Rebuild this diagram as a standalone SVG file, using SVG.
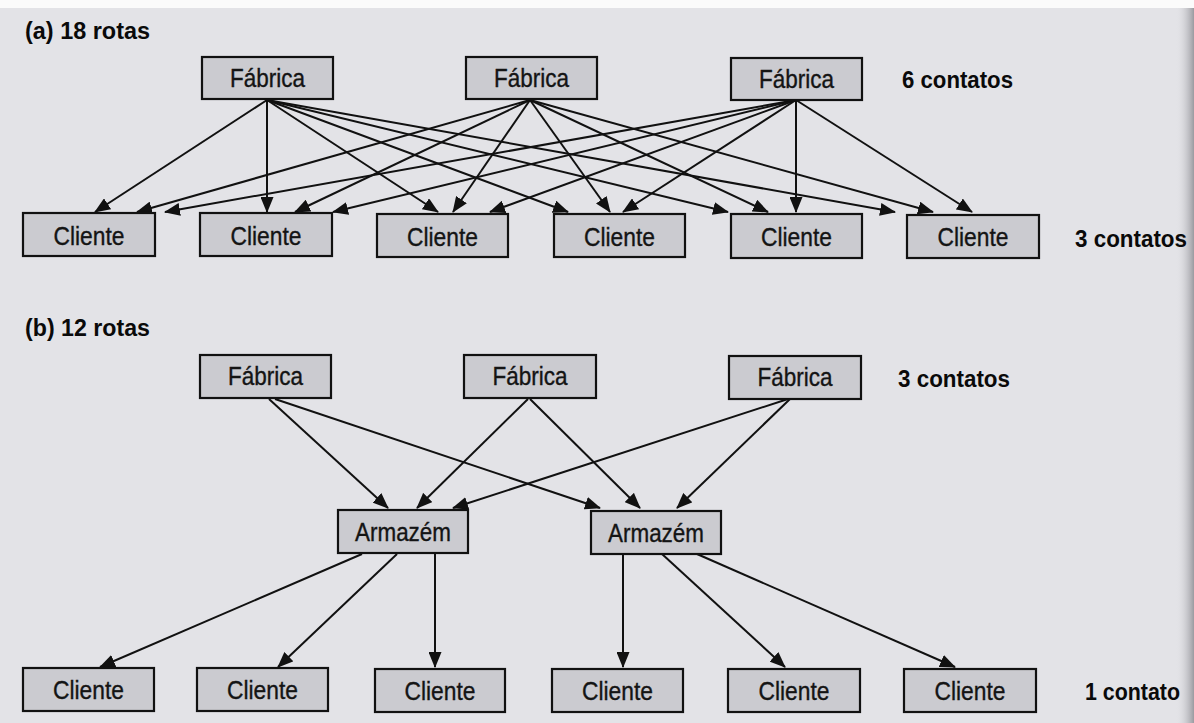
<svg xmlns="http://www.w3.org/2000/svg" width="1194" height="723" viewBox="0 0 1194 723">
  <style>
    .box { fill: #cbcbd0; stroke: #111; stroke-width: 2.2; }
    .lbl { font-family: "Liberation Sans", Arial, sans-serif; font-size: 25px; fill: #141414; stroke: #141414; stroke-width: 0.35; text-anchor: middle; }
    .hd { font-family: "Liberation Sans", Arial, sans-serif; font-size: 23px; font-weight: bold; fill: #0a0a0a; }
    .edge { stroke: #111; stroke-width: 2; fill: none; marker-end: url(#arrow); }
  </style>
  <defs>
    <marker id="arrow" markerUnits="userSpaceOnUse" markerWidth="16" markerHeight="13" refX="15" refY="6.5" orient="auto">
      <path d="M0,0 L16,6.5 L0,13 z" fill="#111"/>
    </marker>
    <linearGradient id="edgeShade" x1="0" y1="0" x2="1" y2="0">
      <stop offset="0" stop-color="#e2e2e6" stop-opacity="0"/>
      <stop offset="1" stop-color="#9a9aa0"/>
    </linearGradient>
  </defs>

  <!-- paper -->
  <rect x="0" y="0" width="1194" height="723" fill="#e3e3e7"/>
  <rect x="0" y="0" width="1194" height="8" fill="#fbfbfb"/>
  <rect x="1176" y="8" width="18" height="715" fill="url(#edgeShade)"/>

  <!-- section headings and contact counts -->
  <text class="hd" x="25" y="39" textLength="125" lengthAdjust="spacingAndGlyphs">(a) 18 rotas</text>
  <text class="hd" x="902" y="88" textLength="111" lengthAdjust="spacingAndGlyphs">6 contatos</text>
  <text class="hd" x="1075" y="247" textLength="112" lengthAdjust="spacingAndGlyphs">3 contatos</text>
  <text class="hd" x="25" y="336" textLength="125" lengthAdjust="spacingAndGlyphs">(b) 12 rotas</text>
  <text class="hd" x="898" y="387" textLength="112" lengthAdjust="spacingAndGlyphs">3 contatos</text>
  <text class="hd" x="1085" y="700" textLength="95" lengthAdjust="spacingAndGlyphs">1 contato</text>

  <!-- connectors -->
  <g id="connectors">
    <!-- (a) direct routes: each factory to each customer -->
    <line class="edge" x1="267" y1="100" x2="95" y2="212"/>
    <line class="edge" x1="267" y1="100" x2="267" y2="212"/>
    <line class="edge" x1="267" y1="100" x2="438" y2="212"/>
    <line class="edge" x1="267" y1="100" x2="568" y2="212"/>
    <line class="edge" x1="267" y1="100" x2="728" y2="212"/>
    <line class="edge" x1="267" y1="100" x2="895" y2="212"/>

    <line class="edge" x1="530" y1="100" x2="137" y2="212"/>
    <line class="edge" x1="530" y1="100" x2="295" y2="212"/>
    <line class="edge" x1="530" y1="100" x2="453" y2="212"/>
    <line class="edge" x1="530" y1="100" x2="610" y2="212"/>
    <line class="edge" x1="530" y1="100" x2="768" y2="212"/>
    <line class="edge" x1="530" y1="100" x2="933" y2="212"/>

    <line class="edge" x1="796" y1="100" x2="165" y2="212"/>
    <line class="edge" x1="796" y1="100" x2="333" y2="212"/>
    <line class="edge" x1="796" y1="100" x2="490" y2="212"/>
    <line class="edge" x1="796" y1="100" x2="623" y2="212"/>
    <line class="edge" x1="796" y1="100" x2="796" y2="212"/>
    <line class="edge" x1="796" y1="100" x2="972" y2="212"/>

    <!-- (b) factories to warehouses -->
    <line class="edge" x1="269" y1="399" x2="388" y2="508"/>
    <line class="edge" x1="275" y1="399" x2="600" y2="508"/>
    <line class="edge" x1="528" y1="399" x2="417" y2="508"/>
    <line class="edge" x1="530" y1="399" x2="640" y2="508"/>
    <line class="edge" x1="788" y1="399" x2="453" y2="508"/>
    <line class="edge" x1="790" y1="399" x2="677" y2="508"/>

    <!-- (b) warehouses to customers -->
    <line class="edge" x1="362" y1="554" x2="100" y2="667"/>
    <line class="edge" x1="397" y1="554" x2="278" y2="667"/>
    <line class="edge" x1="435" y1="554" x2="435" y2="667"/>
    <line class="edge" x1="623" y1="554" x2="623" y2="667"/>
    <line class="edge" x1="662" y1="554" x2="785" y2="667"/>
    <line class="edge" x1="697" y1="554" x2="955" y2="667"/>
  </g>

  <!-- (a) factories -->
  <g id="a-fabrica-1"><rect class="box" x="202" y="57" width="131" height="42"/><text class="lbl" x="267.5" y="87" textLength="75" lengthAdjust="spacingAndGlyphs">Fábrica</text></g>
  <g id="a-fabrica-2"><rect class="box" x="466" y="57" width="131" height="42"/><text class="lbl" x="531.5" y="87" textLength="75" lengthAdjust="spacingAndGlyphs">Fábrica</text></g>
  <g id="a-fabrica-3"><rect class="box" x="731" y="58" width="131" height="42"/><text class="lbl" x="796.5" y="88" textLength="75" lengthAdjust="spacingAndGlyphs">Fábrica</text></g>

  <!-- (a) customers -->
  <g id="a-cliente-1"><rect class="box" x="23" y="213" width="132" height="43"/><text class="lbl" x="89" y="245" textLength="71" lengthAdjust="spacingAndGlyphs">Cliente</text></g>
  <g id="a-cliente-2"><rect class="box" x="200" y="213" width="132" height="43"/><text class="lbl" x="266" y="245" textLength="71" lengthAdjust="spacingAndGlyphs">Cliente</text></g>
  <g id="a-cliente-3"><rect class="box" x="377" y="214" width="131" height="43"/><text class="lbl" x="442.5" y="246" textLength="71" lengthAdjust="spacingAndGlyphs">Cliente</text></g>
  <g id="a-cliente-4"><rect class="box" x="554" y="214" width="131" height="43"/><text class="lbl" x="619.5" y="246" textLength="71" lengthAdjust="spacingAndGlyphs">Cliente</text></g>
  <g id="a-cliente-5"><rect class="box" x="731" y="214" width="131" height="44"/><text class="lbl" x="796.5" y="246" textLength="71" lengthAdjust="spacingAndGlyphs">Cliente</text></g>
  <g id="a-cliente-6"><rect class="box" x="907" y="215" width="132" height="43"/><text class="lbl" x="973" y="246" textLength="71" lengthAdjust="spacingAndGlyphs">Cliente</text></g>

  <!-- (b) factories -->
  <g id="b-fabrica-1"><rect class="box" x="200" y="355" width="131" height="43"/><text class="lbl" x="265.5" y="385" textLength="75" lengthAdjust="spacingAndGlyphs">Fábrica</text></g>
  <g id="b-fabrica-2"><rect class="box" x="464" y="355" width="132" height="43"/><text class="lbl" x="530" y="385" textLength="75" lengthAdjust="spacingAndGlyphs">Fábrica</text></g>
  <g id="b-fabrica-3"><rect class="box" x="729" y="356" width="132" height="43"/><text class="lbl" x="795" y="386" textLength="75" lengthAdjust="spacingAndGlyphs">Fábrica</text></g>

  <!-- (b) warehouses -->
  <g id="b-armazem-1"><rect class="box" x="338" y="510" width="130" height="43"/><text class="lbl" x="403" y="541" textLength="96" lengthAdjust="spacingAndGlyphs">Armazém</text></g>
  <g id="b-armazem-2"><rect class="box" x="591" y="511" width="130" height="43"/><text class="lbl" x="656" y="542" textLength="96" lengthAdjust="spacingAndGlyphs">Armazém</text></g>

  <!-- (b) customers -->
  <g id="b-cliente-1"><rect class="box" x="23" y="668" width="131" height="43"/><text class="lbl" x="88.5" y="699" textLength="71" lengthAdjust="spacingAndGlyphs">Cliente</text></g>
  <g id="b-cliente-2"><rect class="box" x="197" y="668" width="131" height="43"/><text class="lbl" x="262.5" y="699" textLength="71" lengthAdjust="spacingAndGlyphs">Cliente</text></g>
  <g id="b-cliente-3"><rect class="box" x="375" y="669" width="130" height="43"/><text class="lbl" x="440" y="700" textLength="71" lengthAdjust="spacingAndGlyphs">Cliente</text></g>
  <g id="b-cliente-4"><rect class="box" x="552" y="669" width="131" height="43"/><text class="lbl" x="617.5" y="700" textLength="71" lengthAdjust="spacingAndGlyphs">Cliente</text></g>
  <g id="b-cliente-5"><rect class="box" x="728" y="669" width="132" height="43"/><text class="lbl" x="794" y="700" textLength="71" lengthAdjust="spacingAndGlyphs">Cliente</text></g>
  <g id="b-cliente-6"><rect class="box" x="904" y="669" width="132" height="43"/><text class="lbl" x="970" y="700" textLength="71" lengthAdjust="spacingAndGlyphs">Cliente</text></g>
</svg>
